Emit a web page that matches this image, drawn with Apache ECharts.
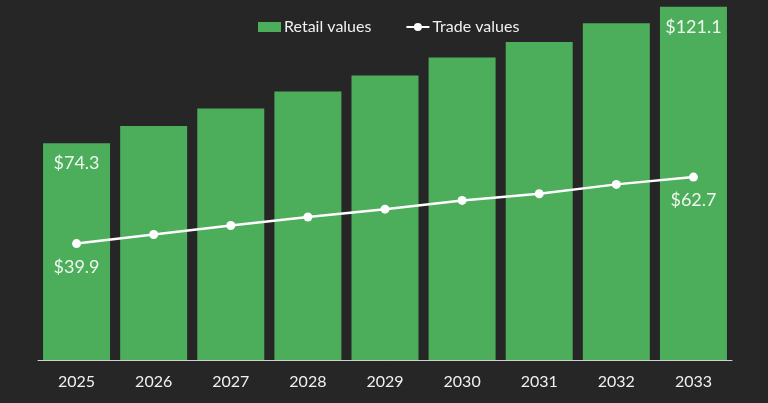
<!DOCTYPE html>
<html><head><meta charset="utf-8">
<script src="https://cdn.jsdelivr.net/npm/echarts@6/dist/echarts.min.js"></script>
<style>html,body{margin:0;padding:0;background:#262626;}#c{width:768px;height:403px;}</style>
</head><body><div id="c"></div>
<script>
const categories = ['2025','2026','2027','2028','2029','2030','2031','2032','2033'];
const retailValues = [74.3, 80.2, 86.2, 92.0, 97.5, 103.7, 109.0, 115.4, 121.1];
const tradeValues = [39.9, 43.0, 46.1, 49.0, 51.7, 54.7, 57.0, 60.2, 62.7];
const labelIdx = [0, 8];

const font = 'Lato, "Noto Sans", sans-serif';
const chart = echarts.init(document.getElementById('c'));
chart.setOption({
  backgroundColor: '#262626',
  animation: false,
  textStyle: {fontFamily: font},
  legend: {
    top: 14, left: 253,
    itemWidth: 23, itemHeight: 10, itemGap: 34,
    textStyle: {color: '#f0f0f0', fontSize: 16, fontFamily: font, padding: [0,0,0,-2]},
    data: [{name: 'Retail values', icon: 'rect'}, {name: 'Trade values'}]
  },
  grid: {left: 38, right: 36, top: 0, bottom: 43},
  xAxis: {
    type: 'category', data: categories,
    axisLine: {lineStyle: {color: '#d0d0d0', width: 1}},
    axisTick: {show: false},
    axisLabel: {color: '#f0f0f0', fontSize: 16, margin: 14, fontFamily: font}
  },
  yAxis: {
    type: 'value', min: 0, max: 123.4,
    show: false, splitLine: {show: false}
  },
  series: [
    {
      name: 'Retail values', type: 'bar', data: retailValues, barWidth: 67,
      itemStyle: {color: '#4cad5b'},
      label: {
        show: true, position: 'insideTop', distance: 11,
        color: '#eef7ee', fontSize: 18, fontFamily: font,
        formatter: p => labelIdx.includes(p.dataIndex) ? '$' + p.value.toFixed(1) : ''
      }
    },
    {
      name: 'Trade values', type: 'line', data: tradeValues,
      symbol: 'circle', symbolSize: 9,
      lineStyle: {color: '#ffffff', width: 2.5},
      itemStyle: {color: '#ffffff'},
      label: {
        show: true, position: 'bottom', distance: 10,
        color: '#eef7ee', fontSize: 18, fontFamily: font,
        formatter: p => labelIdx.includes(p.dataIndex) ? '$' + p.value.toFixed(1) : ''
      }
    }
  ]
});
</script></body></html>
